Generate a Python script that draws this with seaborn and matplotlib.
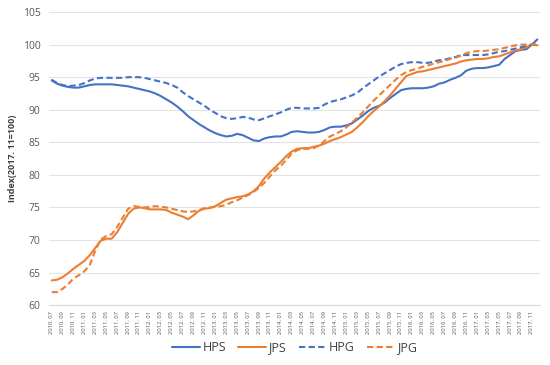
import numpy as np
import pandas as pd
import matplotlib
matplotlib.use("Agg")
import matplotlib.pyplot as plt
import seaborn as sns

# monthly index values, 2010.07 - 2017.12 (2017.11 = 100)
months = [f"{2010 + (6 + i) // 12}. {(6 + i) % 12 + 1:02d}" for i in range(90)]

hps = [94.5, 94.0, 93.7, 93.5, 93.4, 93.4, 93.6, 93.8, 93.9, 93.9,
       93.9, 93.9, 93.8, 93.7, 93.6, 93.4, 93.2, 93.0, 92.8, 92.5,
       92.1, 91.6, 91.1, 90.5, 89.8, 89.0, 88.4, 87.8, 87.3, 86.8,
       86.4, 86.1, 85.9, 86.0, 86.3, 86.1, 85.7, 85.3, 85.2, 85.6,
       85.8, 85.9, 85.9, 86.2, 86.6, 86.7, 86.6, 86.5, 86.5, 86.6,
       86.9, 87.3, 87.4, 87.4, 87.6, 87.9, 88.5, 89.1, 89.8, 90.3,
       90.6, 91.1, 91.8, 92.4, 93.0, 93.2, 93.3, 93.3, 93.3, 93.4,
       93.6, 94.0, 94.2, 94.6, 94.9, 95.3, 96.0, 96.3, 96.4, 96.4,
       96.5, 96.7, 96.9, 97.8, 98.4, 99.0, 99.2, 99.3, 100.0, 100.8]

jps = [63.8, 63.9, 64.3, 64.9, 65.6, 66.2, 66.8, 67.7, 68.8, 69.9,
       70.2, 70.2, 71.2, 72.6, 74.0, 74.8, 75.0, 74.9, 74.7, 74.7,
       74.7, 74.6, 74.2, 73.9, 73.6, 73.2, 73.8, 74.5, 74.8, 74.9,
       75.2, 75.7, 76.2, 76.4, 76.6, 76.7, 77.0, 77.5, 78.3, 79.5,
       80.4, 81.2, 82.0, 82.9, 83.6, 84.0, 84.1, 84.1, 84.3, 84.5,
       84.8, 85.2, 85.5, 85.8, 86.2, 86.6, 87.3, 88.1, 89.0, 89.8,
       90.5, 91.3, 92.2, 93.2, 94.2, 95.2, 95.5, 95.8, 95.9, 96.1,
       96.3, 96.5, 96.7, 96.9, 97.1, 97.4, 97.6, 97.7, 97.8, 97.8,
       97.9, 98.1, 98.2, 98.5, 98.8, 99.1, 99.3, 99.6, 100.0, 99.9]

hpg = [94.6, 94.1, 93.8, 93.6, 93.7, 93.8, 94.1, 94.5, 94.8, 94.9,
       94.9, 94.9, 94.9, 94.9, 95.0, 95.0, 95.0, 94.9, 94.7, 94.5,
       94.3, 94.1, 93.8, 93.4, 92.7, 92.1, 91.6, 91.1, 90.6, 90.0,
       89.5, 89.0, 88.7, 88.6, 88.7, 88.9, 88.8, 88.5, 88.4, 88.7,
       89.0, 89.3, 89.6, 90.0, 90.3, 90.3, 90.2, 90.2, 90.2, 90.3,
       90.8, 91.2, 91.4, 91.6, 91.9, 92.2, 92.6, 93.3, 93.9, 94.5,
       95.1, 95.6, 96.1, 96.6, 97.0, 97.2, 97.3, 97.3, 97.2, 97.2,
       97.4, 97.6, 97.7, 97.9, 98.1, 98.4, 98.4, 98.4, 98.4, 98.4,
       98.5, 98.7, 98.9, 99.0, 99.2, 99.4, 99.6, 99.8, 100.0, 100.0]

jpg = [62.0, 62.0, 62.5, 63.2, 64.1, 64.6, 65.2, 66.2, 68.4, 70.1,
       70.6, 70.9, 72.0, 73.4, 74.8, 75.2, 75.1, 75.0, 75.1, 75.2,
       75.1, 75.0, 74.8, 74.6, 74.4, 74.3, 74.4, 74.6, 74.9, 75.0,
       75.1, 75.2, 75.4, 75.8, 76.1, 76.5, 76.9, 77.4, 78.0, 78.8,
       79.8, 80.7, 81.4, 82.3, 83.3, 83.8, 84.0, 84.0, 84.1, 84.5,
       85.2, 85.9, 86.3, 86.7, 87.3, 88.0, 88.8, 89.6, 90.5, 91.4,
       92.2, 93.0, 93.8, 94.6, 95.3, 95.8, 96.1, 96.3, 96.6, 96.8,
       97.1, 97.3, 97.5, 97.8, 98.0, 98.3, 98.7, 98.9, 99.0, 99.0,
       99.1, 99.2, 99.3, 99.5, 99.7, 99.9, 100.0, 100.0, 100.0, 100.0]

series = {"HPS": hps, "JPS": jps, "HPG": hpg, "JPG": jpg}
blue, orange = "#4472C4", "#ED7D31"
palette = {"HPS": blue, "JPS": orange, "HPG": blue, "JPG": orange}
dashes = {"HPS": "", "JPS": "", "HPG": (3, 1.6), "JPG": (3, 1.6)}

df = pd.concat(
    [pd.DataFrame({"pos": np.arange(len(months)), "month": months, "value": v, "series": k})
     for k, v in series.items()],
    ignore_index=True,
)

sns.set_style("white")
plt.rcParams["font.family"] = ["Open Sans", "DejaVu Sans"]

fig = plt.figure(figsize=(5.5, 3.65), dpi=100)
ax = fig.add_axes([0.089, 0.164, 0.893, 0.803])

sns.lineplot(data=df, x="pos", y="value", hue="series", style="series",
             palette=palette, dashes=dashes, linewidth=1.5, ax=ax)

ax.set_xlim(-0.5, len(months) - 0.5)
ax.set_ylim(60, 105)
ax.set_yticks(np.arange(60, 106, 5))
ax.set_xticks(np.arange(0, len(months) - 1, 2))
ax.set_xticklabels(months[0:len(months) - 1:2], rotation=90, fontsize=4.2, color="#595959")
ax.tick_params(axis="y", labelsize=7.5, labelcolor="#595959", length=0, pad=6)
ax.tick_params(axis="x", length=0, pad=4)
ax.grid(axis="y", color="#e3e3e3", linewidth=0.8)
ax.set_axisbelow(True)
for s in ["top", "right", "left"]:
    ax.spines[s].set_visible(False)
ax.spines["bottom"].set_color("#d9d9d9")
ax.set_xlabel("")
ax.set_ylabel("Index(2017. 11=100)", fontsize=6.5, fontweight="bold", color="#404040", labelpad=4)

ax.legend(loc="center", bbox_to_anchor=(0.5, -0.145), ncol=4, frameon=False,
          fontsize=9, handlelength=2.2, handletextpad=0.2, columnspacing=1.0,
          labelcolor="#404040")

fig.savefig("out.png", dpi=100)
